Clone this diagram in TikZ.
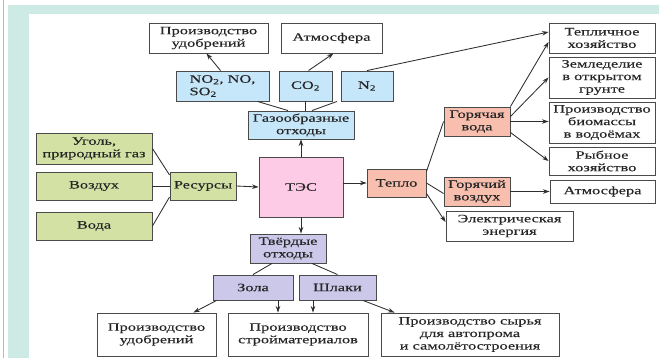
\documentclass[tikz,border=0pt]{standalone}
\usepackage{fontspec}
\setmainfont{Liberation Serif}[FakeStretch=1.45,FakeBold=0.2]
\usetikzlibrary{arrows.meta}
\definecolor{frameteal}{HTML}{CDEAE5}
\definecolor{greyline}{HTML}{BBBBBB}
\definecolor{boxline}{HTML}{4A4A4A}
\definecolor{lnc}{HTML}{2E2E2E}
\definecolor{txt}{HTML}{262626}
\definecolor{cgreen}{HTML}{D3E2A4}
\definecolor{cblue}{HTML}{C6E6FA}
\definecolor{cpink}{HTML}{FDCBE6}
\definecolor{csalmon}{HTML}{F8BFAE}
\definecolor{clav}{HTML}{CBC8EA}
\begin{document}
\begin{tikzpicture}[x=1pt,y=-1pt,
  box/.style={draw=boxline, line width=0.9pt, inner sep=0pt, align=center, text=txt,
    font=\fontsize{11.3}{12.5}\selectfont},
  wbox/.style={box, fill=white},
  gbox/.style={box, fill=cgreen},
  bbox/.style={box, fill=cblue},
  pbox/.style={box, fill=cpink},
  sbox/.style={box, fill=csalmon},
  lbox/.style={box, fill=clav},
  conn/.style={draw=lnc, line width=0.85pt},
  arr/.style={conn, -{Stealth[length=6.5pt,width=4.5pt]}}]
\useasboundingbox (0,0) rectangle (659,358);
% background
\fill[white] (0,0) rectangle (659,358);
\draw[greyline, line width=1pt] (3,0) -- (3,358);
\fill[frameteal] (8,5) rectangle (659,358);
\fill[white] (29,14) rectangle (659,358);

% top row
\node[wbox, minimum width=119, minimum height=30] (prodUdA) at (208.5,38) {Производство\\удобрений};
\node[wbox, minimum width=101, minimum height=30] (atmA) at (331.5,38) {Атмосфера};
\node[bbox, minimum width=93, minimum height=30, align=left] (no2) at (222.5,86) {NO\textsubscript{2}, NO,\\SO\textsubscript{2}};
\node[bbox, minimum width=53, minimum height=30] (co2) at (305.5,86) {CO\textsubscript{2}};
\node[bbox, minimum width=52, minimum height=30] (n2) at (367,86) {N\textsubscript{2}};
\node[bbox, minimum width=106, minimum height=28] (gas) at (301,125) {Газообразные\\отходы};
\node[pbox, minimum width=84, minimum height=60] (tes) at (301,187) {ТЭС};
\node[gbox, minimum width=66, minimum height=28] (res) at (203,186) {Ресурсы};
\node[sbox, minimum width=59, minimum height=28] (teplo) at (396.5,183) {Тепло};
% resources
\node[gbox, minimum width=116, minimum height=31] (coal) at (94,148.5) {Уголь,\\природный газ};
\node[gbox, minimum width=116, minimum height=28] (air) at (94,186) {Воздух};
\node[gbox, minimum width=116, minimum height=28] (water) at (94,226) {Вода};
% heat
\node[sbox, minimum width=66, minimum height=29] (hotw) at (477,121.5) {Горячая\\вода};
\node[sbox, minimum width=66, minimum height=29] (hota) at (477,191.5) {Горячий\\воздух};
\node[wbox, minimum width=127, minimum height=30] (elec) at (509.5,226) {Электрическая\\энергия};
\node[wbox, minimum width=106, minimum height=30] (tepl) at (602,38) {Тепличное\\хозяйство};
\node[wbox, minimum width=106, minimum height=41] (zeml) at (602,77.5) {Земледелие\\в открытом\\грунте};
\node[wbox, minimum width=106, minimum height=41] (bio) at (602,122.5) {Производство\\биомассы\\в водоёмах};
\node[wbox, minimum width=106, minimum height=28] (fish) at (602,161) {Рыбное\\хозяйство};
\node[wbox, minimum width=105, minimum height=23] (atmB) at (602.5,191.5) {Атмосфера};
% solid
\node[lbox, minimum width=76, minimum height=29] (solid) at (288,248.5) {Твёрдые\\отходы};
\node[lbox, minimum width=80, minimum height=25] (ash) at (253,287.5) {Зола};
\node[lbox, minimum width=77, minimum height=25] (slag) at (337.5,287.5) {Шлаки};
\node[wbox, minimum width=119, minimum height=43] (prodUdB) at (156.5,334.5) {Производство\\удобрений};
\node[wbox, minimum width=140, minimum height=43] (stroy) at (298,334.5) {Производство\\стройматериалов};
\node[wbox, minimum width=178, minimum height=43] (syr) at (470,334.5) {Производство сырья\\для автопрома\\и самолётостроения};

% connectors
\draw[conn] (coal.east) -- ([yshift=11]res.west);
\draw[conn] (air.east) -- (res.west);
\draw[conn] (water.east) -- ([yshift=-11]res.west);
\draw[arr] (res.east) -- (tes.west);
\draw[arr] (tes.north) -- (gas.south);
\draw[conn] ([xshift=-13]gas.north) -- ([xshift=35]no2.south);
\draw[conn] (gas.north -| co2.south) -- (co2.south);
\draw[conn] ([xshift=11]gas.north) -- ([xshift=-30]n2.south);
\draw[arr] ([xshift=-2]no2.north) -- ([xshift=-2]prodUdA.south);
\draw[arr] ([xshift=3]co2.north) -- ([xshift=2]atmA.south);
\draw[arr] (n2.north) -- ([yshift=6]tepl.west);
\draw[arr] (tes.east |- teplo.west) -- (teplo.west);
\draw[conn] ([yshift=-3]teplo.north east) -- (hotw.west);
\draw[conn] (teplo.east) -- ([yshift=-2]hota.west);
\draw[arr] ([yshift=4]teplo.south east) -- ([yshift=4]elec.west);
\draw[arr] (hotw.north east) -- ([yshift=-4]tepl.west);
\draw[arr] ([yshift=5]hotw.east) -- (zeml.west);
\draw[arr] (hotw.east) -- (hotw.east -| bio.west);
\draw[arr] ([yshift=-11]hotw.east) -- (fish.west);
\draw[arr] (hota.east) -- (hota.east -| atmB.west);
\draw[arr] (tes.south) -- (tes.south |- solid.north);
\draw[conn] ([xshift=-16]solid.south) -- (ash.north);
\draw[conn] ([xshift=24]solid.south) -- (slag.north);
\draw[arr] ([xshift=4]ash.south west) -- ([xshift=-23]prodUdB.north east);
\draw[arr] ([xshift=25]ash.south) -- ([xshift=25]ash.south |- stroy.north);
\draw[arr] ([xshift=-24.5]slag.south) -- ([xshift=-24.5]slag.south |- stroy.north);
\draw[arr] ([xshift=25.5]slag.south) -- ([xshift=14]syr.north west);
\end{tikzpicture}
\end{document}
